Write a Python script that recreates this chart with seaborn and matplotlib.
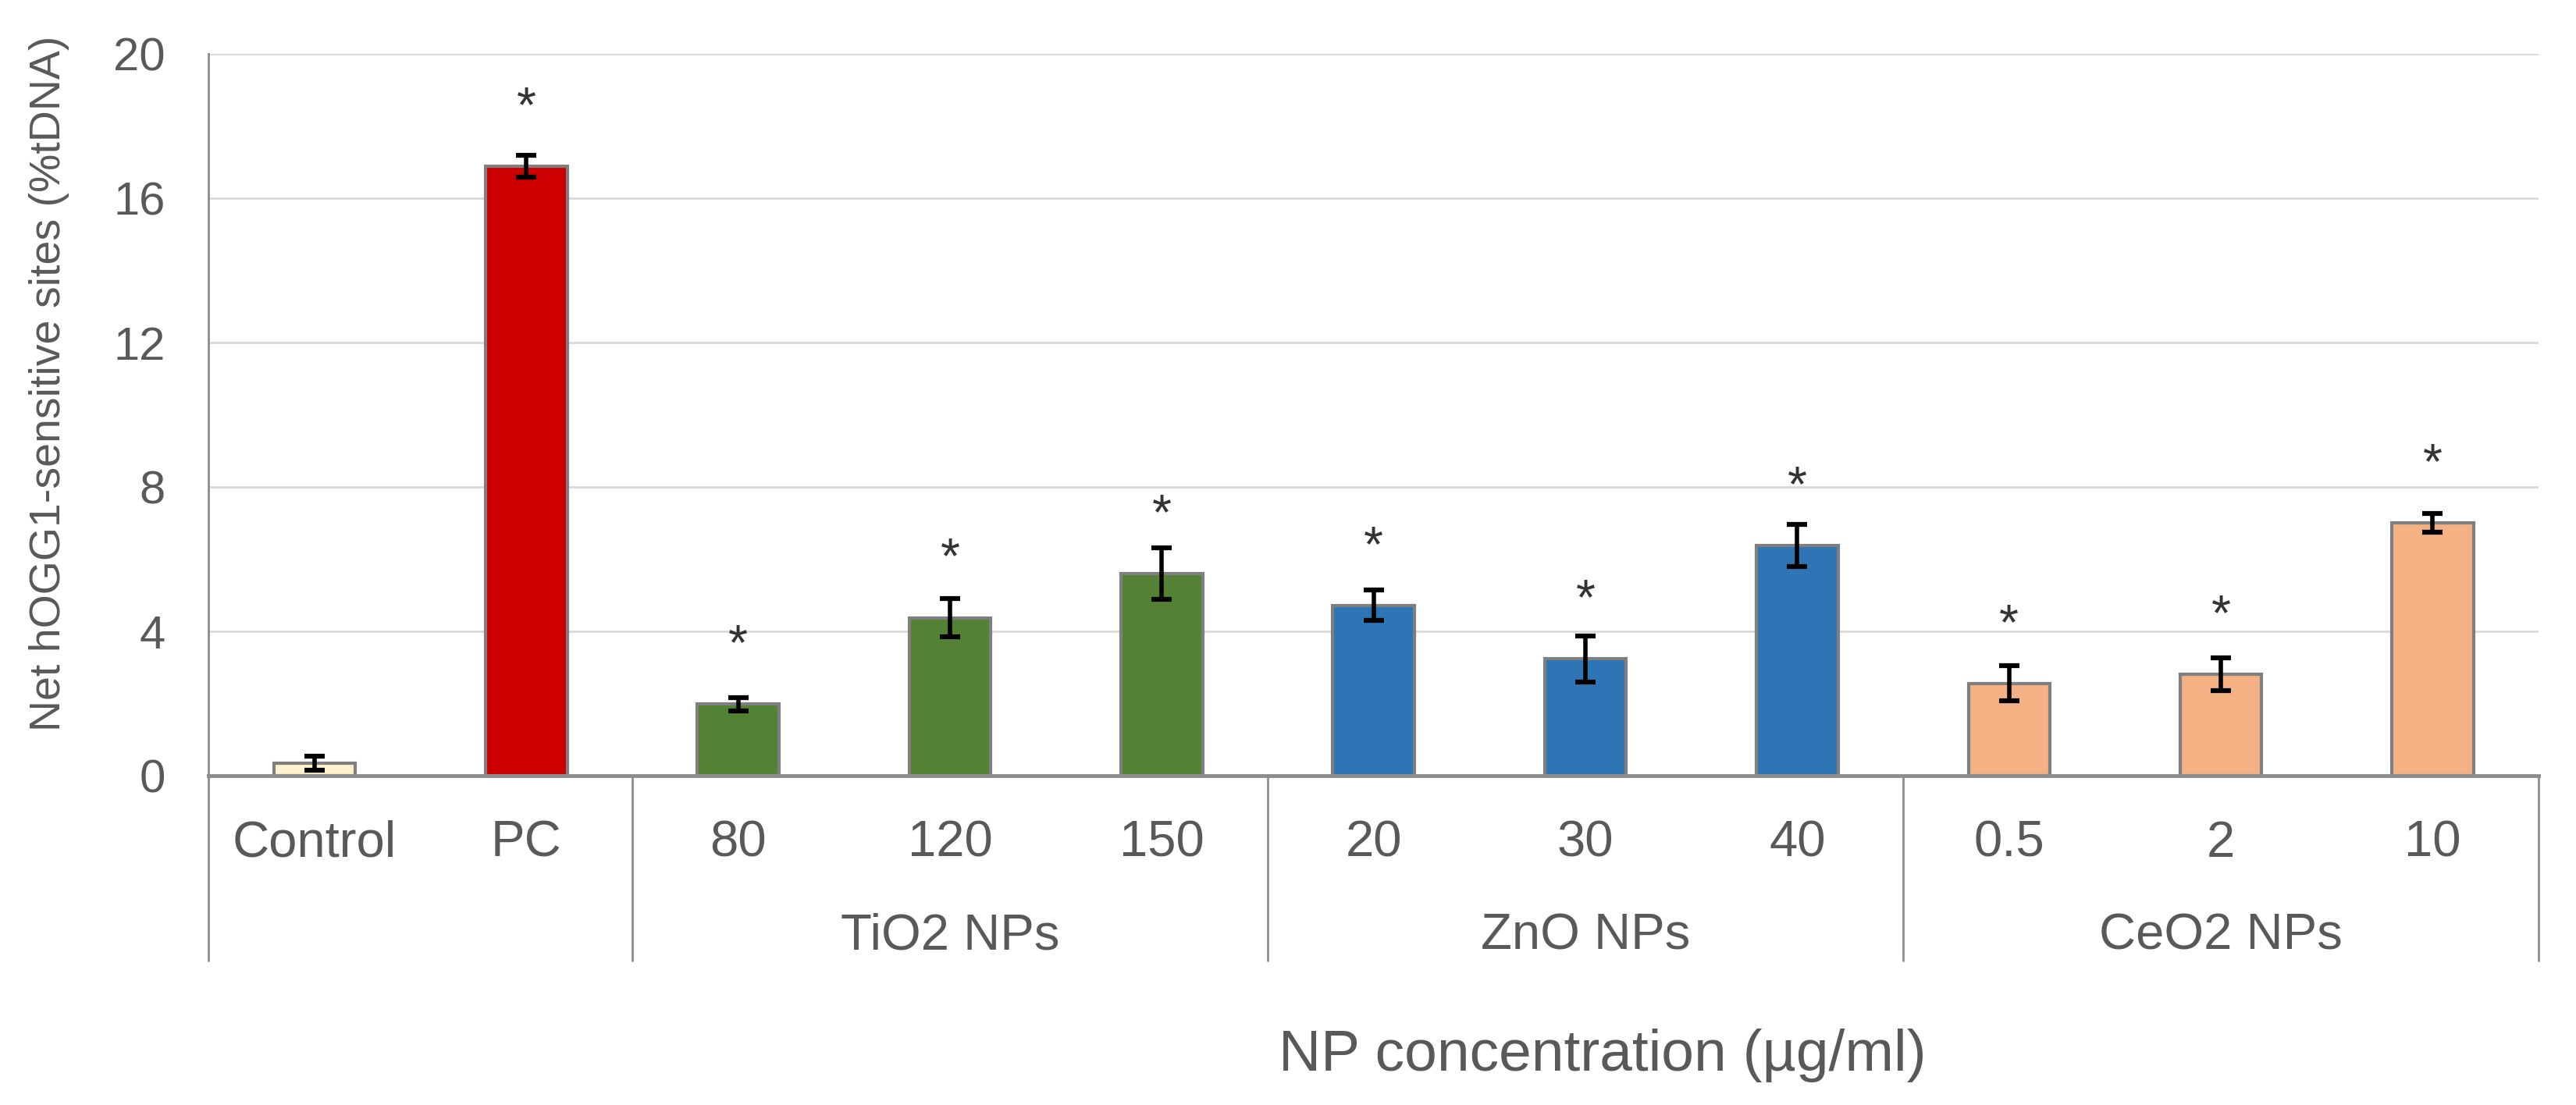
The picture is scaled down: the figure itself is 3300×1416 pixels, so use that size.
import matplotlib
matplotlib.use("Agg")
import matplotlib.pyplot as plt
import matplotlib.transforms as mtransforms
import seaborn as sns
import pandas as pd

# ---- data ----
categories = ["Control", "PC", "80", "120", "150", "20", "30", "40", "0.5", "2", "10"]
values = [0.35, 16.9, 1.98, 4.38, 5.6, 4.72, 3.24, 6.38, 2.56, 2.81, 7.0]
errors = [0.2, 0.3, 0.18, 0.52, 0.72, 0.42, 0.64, 0.58, 0.49, 0.46, 0.26]
significant = [False, True, True, True, True, True, True, True, True, True, True]
group_names = ["TiO2 NPs", "ZnO NPs", "CeO2 NPs"]
group_members = [["80", "120", "150"], ["20", "30", "40"], ["0.5", "2", "10"]]
bar_colors = ["#FFF2CC", "#CC0000", "#548235", "#548235", "#548235",
              "#2E75B6", "#2E75B6", "#2E75B6", "#F4B183", "#F4B183", "#F4B183"]
y_ticks = [0, 4, 8, 12, 16, 20]
y_label = "Net hOGG1-sensitive sites (%tDNA)"
x_label = "NP concentration (µg/ml)"

sns.set_theme(style="white")
plt.rcParams["font.family"] = ["Liberation Sans", "DejaVu Sans"]

TEXT = "#595959"
fig = plt.figure(figsize=(33, 14.16), dpi=100)
ax = fig.add_axes([0.081, 0.298, 0.9045, 0.653])

df = pd.DataFrame({"cat": categories, "val": values})
sns.barplot(data=df, x="cat", y="val", hue="cat", order=categories,
            hue_order=categories, palette=bar_colors, legend=False,
            saturation=1, width=0.385, edgecolor="#7F7F7F", linewidth=3,
            ax=ax, zorder=3, errorbar=None)

xs = list(range(len(categories)))
ax.errorbar(xs, values, yerr=errors, fmt="none", ecolor="black",
            elinewidth=4, capsize=9.5, capthick=4.5, zorder=4)

for x, v, s in zip(xs, values, significant):
    if s:
        ax.annotate("*", xy=(x, v), xytext=(0, 41), textcoords="offset points",
                    ha="center", va="baseline", fontsize=46, color="#333333", zorder=5)

ax.set_xlim(-0.5, len(categories) - 0.5)
ax.set_ylim(0, 20)
ax.set_yticks(y_ticks)
ax.set_yticklabels([str(t) for t in y_ticks])
ax.yaxis.grid(True, color="#D9D9D9", linewidth=2, zorder=0)
ax.xaxis.grid(False)
ax.set_xlabel("")
ax.set_ylabel("")
ax.tick_params(axis="y", labelsize=43, labelcolor=TEXT, length=0, pad=40)
ax.tick_params(axis="x", labelsize=47, labelcolor=TEXT, length=0, pad=41)

for side in ["top", "right"]:
    ax.spines[side].set_visible(False)
ax.spines["left"].set_color("#8C8C8C")
ax.spines["left"].set_linewidth(2)
ax.spines["bottom"].set_color("#8C8C8C")
ax.spines["bottom"].set_linewidth(3.5)
ax.spines["bottom"].set_zorder(6)

trans = mtransforms.blended_transform_factory(ax.transData, ax.transAxes)
sep_bottom = -0.256
for xsep in [-0.5, 1.5, 4.5, 7.5, len(categories) - 0.5]:
    ax.plot([xsep, xsep], [0, sep_bottom], transform=trans, color="#8C8C8C",
            linewidth=2, clip_on=False)

for name, members in zip(group_names, group_members):
    idx = [categories.index(m) for m in members]
    cx = sum(idx) / len(idx)
    ax.text(cx, -0.222, name, transform=trans, ha="center", va="center",
            fontsize=47, color=TEXT)

fig.text(0.019, 0.653, y_label, rotation=90, ha="center", va="center",
         fontsize=40, color=TEXT)
fig.text(0.622, 0.045, x_label, ha="center", va="center", fontsize=54, color=TEXT)

fig.savefig("out.png", dpi=100, facecolor="white")
